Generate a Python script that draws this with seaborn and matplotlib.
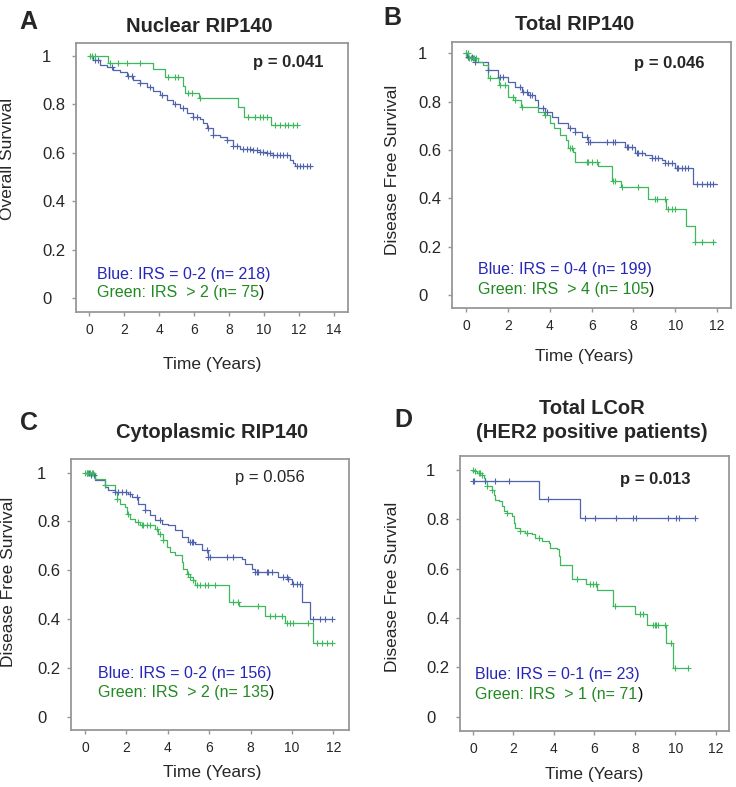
import numpy as np
import pandas as pd
import matplotlib
matplotlib.use('Agg')
import matplotlib.pyplot as plt
import seaborn as sns

# ---- values (time in years, survival fraction) ----
# A: Nuclear RIP140, overall survival
a_blue_t = [0, 0.25, 0.63, 1.01, 1.39, 1.77, 2.15, 2.53, 2.91, 3.30, 3.68, 4.06, 4.44, 4.82, 5.20, 5.58,
            5.96, 6.34, 6.53, 6.72, 7.10, 7.49, 7.87, 8.25, 8.63, 9.39, 9.77, 10.15, 10.53, 11.49, 11.68,
            11.77, 12.72]
a_blue_s = [1.0, 0.984, 0.963, 0.956, 0.942, 0.935, 0.918, 0.901, 0.887, 0.871, 0.857, 0.839, 0.819, 0.801,
            0.784, 0.764, 0.750, 0.740, 0.722, 0.702, 0.674, 0.667, 0.654, 0.630, 0.616, 0.612, 0.605,
            0.599, 0.592, 0.571, 0.557, 0.544, 0.544]
a_blue_c = [0.34, 0.53, 1.3, 2.25, 2.44, 2.91, 3.49, 4.15, 4.91, 5.39, 5.96, 6.15, 6.82, 7.1, 7.87, 8.25,
            8.44, 8.82, 9.01, 9.2, 9.39, 9.58, 9.77, 9.96, 10.15, 10.34, 10.53, 10.72, 10.91, 11.1, 11.3,
            11.87, 12.06, 12.25, 12.44, 12.63]
a_green_t = [0, 1.10, 3.68, 4.34, 5.35, 5.49, 6.30, 8.53, 8.88, 10.40, 11.87]
a_green_s = [1.0, 0.972, 0.945, 0.912, 0.876, 0.846, 0.826, 0.788, 0.750, 0.715, 0.715]
a_green_c = [0.05, 0.15, 0.34, 1.2, 1.68, 2.15, 2.91, 4.53, 4.91, 5.1, 5.68, 5.87, 6.34, 9.1, 9.49, 9.77,
             9.96, 10.15, 10.63, 10.91, 11.2, 11.39, 11.68, 11.87]

# B: Total RIP140, disease free survival
b_blue_t = [0, 0.05, 0.41, 1.05, 1.53, 2.01, 2.33, 2.65, 2.97, 3.29, 3.45, 3.77, 4.08, 4.40, 4.88, 5.20,
            5.52, 5.84, 7.60, 8.07, 8.55, 8.87, 9.35, 9.51, 9.99, 10.87, 11.98]
b_blue_s = [1.0, 0.986, 0.966, 0.931, 0.903, 0.883, 0.862, 0.841, 0.828, 0.807, 0.772, 0.759, 0.738, 0.710,
            0.690, 0.676, 0.655, 0.634, 0.614, 0.586, 0.579, 0.566, 0.559, 0.545, 0.524, 0.458, 0.458]
b_blue_c = [0.0, 0.1, 0.26, 0.41, 1.05, 1.61, 1.77, 2.57, 2.73, 2.89, 3.05, 3.13, 3.69, 3.85, 4.96, 5.2,
            5.76, 5.84, 5.92, 6.72, 7.04, 7.12, 7.67, 7.75, 7.91, 8.15, 8.23, 8.39, 8.87, 9.03, 9.19, 9.51,
            9.67, 9.83, 10.07, 10.15, 10.31, 10.47, 10.63, 11.03, 11.27, 11.5, 11.66, 11.82]
b_green_t = [0, 0.1, 0.56, 0.8, 1.02, 1.55, 2.0, 2.31, 2.6, 3.45, 3.72, 4.0, 4.2, 4.5, 4.75, 4.88, 5.1,
             5.22, 6.3, 6.98, 7.4, 8.68, 9.57, 10.53, 10.94, 11.9]
b_green_s = [1.0, 0.979, 0.966, 0.952, 0.897, 0.869, 0.818, 0.805, 0.779, 0.759, 0.745, 0.710, 0.690,
             0.662, 0.641, 0.607, 0.590, 0.552, 0.535, 0.470, 0.445, 0.398, 0.357, 0.286, 0.218, 0.218]
b_green_c = [0.0, 0.08, 0.15, 0.22, 0.3, 0.38, 0.45, 1.13, 1.61, 1.85, 2.25, 2.33, 2.65, 3.77, 4.96, 5.04,
             5.76, 5.84, 6.0, 6.24, 7.04, 7.12, 7.44, 8.23, 9.03, 9.11, 9.51, 9.67, 9.83, 9.99, 10.95,
             11.27, 11.82]

# C: Cytoplasmic RIP140, disease free survival
c_blue_t = [0, 0.3, 0.48, 0.97, 1.13, 1.45, 2.09, 2.26, 2.58, 2.90, 3.14, 3.38, 3.70, 4.03, 4.35, 4.67,
            4.99, 5.32, 5.64, 5.96, 7.57, 7.73, 8.05, 8.21, 9.34, 9.83, 9.99, 10.47, 10.87, 11.95]
c_blue_s = [1.0, 0.989, 0.969, 0.941, 0.928, 0.921, 0.914, 0.900, 0.873, 0.846, 0.825, 0.805, 0.791,
            0.784, 0.764, 0.737, 0.716, 0.709, 0.682, 0.655, 0.648, 0.627, 0.607, 0.593, 0.573, 0.566,
            0.545, 0.470, 0.400, 0.400]
c_blue_c = [0.1, 0.2, 0.3, 0.45, 1.45, 1.61, 1.77, 2.0, 2.17, 2.5, 2.9, 3.62, 5.07, 5.15, 5.24, 5.88, 5.96,
            6.04, 6.85, 7.17, 8.21, 8.29, 8.38, 8.78, 8.86, 9.02, 9.58, 9.75, 9.83, 10.07, 10.23, 10.39,
            11.03, 11.36, 11.6, 11.92]
c_green_t = [0, 0.48, 0.97, 1.45, 1.53, 1.69, 1.93, 2.01, 2.17, 2.42, 2.66, 3.38, 3.54, 3.79, 3.95, 4.11,
             4.35, 4.67, 4.75, 4.91, 5.07, 5.24, 5.32, 6.97, 7.46, 8.70, 9.66, 11.03, 11.95]
c_green_s = [1.0, 0.975, 0.948, 0.921, 0.894, 0.873, 0.859, 0.832, 0.812, 0.798, 0.784, 0.771, 0.750,
             0.723, 0.696, 0.675, 0.661, 0.634, 0.607, 0.586, 0.573, 0.559, 0.540, 0.471, 0.453, 0.412,
             0.382, 0.304, 0.304]
c_green_c = [0.0, 0.08, 0.16, 0.24, 0.32, 0.4, 0.97, 1.53, 2.09, 2.58, 2.74, 2.82, 2.98, 3.14, 3.46, 3.62,
             3.79, 4.99, 5.07, 5.24, 5.4, 5.56, 5.8, 5.96, 6.28, 7.17, 7.41, 8.38, 8.94, 9.18, 9.5, 9.75,
             9.9, 10.07, 10.8, 11.2, 11.44, 11.68, 11.92]

# D: Total LCoR (HER2 positive), disease free survival
d_blue_t = [0, 3.25, 5.31, 10.96]
d_blue_s = [0.957, 0.883, 0.805, 0.805]
d_blue_c = [0.0, 0.05, 0.6, 1.1, 1.8, 3.71, 5.55, 6.02, 7.09, 7.91, 8.08, 9.64, 10.05, 10.17, 10.96]
d_green_t = [0, 0.03, 0.20, 0.45, 0.53, 0.61, 0.69, 0.94, 1.02, 1.10, 1.27, 1.43, 1.52, 1.68, 1.93, 2.01,
             2.09, 2.34, 2.59, 2.92, 3.08, 3.41, 3.74, 3.82, 4.15, 4.24, 4.32, 4.90, 5.60, 6.15, 6.92,
             8.0, 8.62, 9.53, 9.89, 10.63]
d_green_s = [1.0, 0.995, 0.988, 0.981, 0.968, 0.954, 0.934, 0.921, 0.900, 0.880, 0.873, 0.853, 0.833,
             0.826, 0.813, 0.786, 0.766, 0.752, 0.745, 0.739, 0.725, 0.712, 0.705, 0.685, 0.678, 0.651,
             0.617, 0.560, 0.540, 0.512, 0.450, 0.416, 0.371, 0.300, 0.197, 0.197]
d_green_c = [0.0, 0.12, 0.28, 0.36, 0.45, 0.69, 0.94, 1.68, 2.34, 2.67, 3.25, 5.14, 5.77, 5.93, 6.1, 7.0,
             8.24, 8.41, 8.9, 8.98, 9.06, 9.15, 9.48, 9.77, 9.97, 10.63]

BLUE = '#5064ad'
GREEN = '#3db85c'
BLUE_TXT = '#2626b8'
GREEN_TXT = '#228a22'
FRAME = '#979797'

sns.set_style('white')
plt.rcParams['font.family'] = ['Liberation Sans', 'DejaVu Sans']

W, H = 736, 787
fig = plt.figure(figsize=(W / 100, H / 100), dpi=100)


def px_axes(left, right, top, bottom):
    return fig.add_axes([left / W, 1 - bottom / H, (right - left) / W, (bottom - top) / H])


def km_frames(t, s, cens):
    curve = pd.DataFrame({'time': t, 'surv': s})
    idx = np.searchsorted(np.asarray(t), np.asarray(cens), side='right') - 1
    marks = pd.DataFrame({'time': cens, 'surv': np.asarray(s)[idx]})
    return curve, marks


def draw_panel(ax, groups, xlim, ylim, xmax, ptext, pbold, pxy, blue_lbl, green_lbl, legxy):
    for t, s, c, color in groups:
        curve, marks = km_frames(t, s, c)
        sns.lineplot(data=curve, x='time', y='surv', ax=ax, color=color, lw=0.9,
                     drawstyle='steps-post', estimator=None, sort=False)
        sns.scatterplot(data=marks, x='time', y='surv', ax=ax, color=color, marker='+',
                        s=22, linewidth=0.8, zorder=3)
    ax.set_xlim(*xlim)
    ax.set_ylim(*ylim)
    ax.set_xticks(np.arange(0, xmax + 1, 2))
    ax.set_yticks([0, 0.2, 0.4, 0.6, 0.8, 1.0])
    ax.set_yticklabels(['0', '0.2', '0.4', '0.6', '0.8', '1'])
    ax.set_xlabel('')
    ax.set_ylabel('')
    for sp in ax.spines.values():
        sp.set_color(FRAME)
        sp.set_linewidth(1.3)
    ax.tick_params(axis='x', direction='out', length=3, width=1, color=FRAME, pad=5,
                   labelsize=10, bottom=True)
    ax.tick_params(axis='y', direction='out', length=3, width=1, color=FRAME, pad=21.5,
                   labelsize=12, left=True)
    plt.setp(ax.get_yticklabels(), ha='left')

    ax.text(pxy[0], pxy[1], ptext, transform=ax.transAxes, ha='left', va='center',
            fontsize=12, fontweight='bold' if pbold else 'normal')
    ax.text(legxy[0], legxy[1], blue_lbl, transform=ax.transAxes, ha='left', va='center',
            fontsize=11.5, color=BLUE_TXT)
    g = ax.text(legxy[0], legxy[2], green_lbl, transform=ax.transAxes, ha='left', va='center',
                fontsize=11.5, color=GREEN_TXT)
    ax.annotate(')', xy=(1, 0.5), xycoords=g, ha='left', va='center', fontsize=11.5, color='black')


axA = px_axes(76, 348, 43, 312)
draw_panel(axA, [(a_blue_t, a_blue_s, a_blue_c, BLUE), (a_green_t, a_green_s, a_green_c, GREEN)],
           (-0.743, 14.8), (-0.058, 1.054), 14, 'p = 0.041', True, (0.65, 0.926),
           'Blue: IRS = 0-2 (n= 218)', 'Green: IRS  > 2 (n= 75', (0.077, 0.141, 0.071))

axB = px_axes(452, 731, 42, 308)
draw_panel(axB, [(b_blue_t, b_blue_s, b_blue_c, BLUE), (b_green_t, b_green_s, b_green_c, GREEN)],
           (-0.685, 12.67), (-0.054, 1.047), 12, 'p = 0.046', True, (0.651, 0.921),
           'Blue: IRS = 0-4 (n= 199)', 'Green: IRS  > 4 (n= 105', (0.093, 0.143, 0.071))

axC = px_axes(71, 349, 459, 730)
draw_panel(axC, [(c_blue_t, c_blue_s, c_blue_c, BLUE), (c_green_t, c_green_s, c_green_c, GREEN)],
           (-0.677, 12.76), (-0.0545, 1.056), 12, 'p = 0.056', False, (0.59, 0.93),
           'Blue: IRS = 0-2 (n= 156)', 'Green: IRS  > 2 (n= 135', (0.096, 0.21, 0.137))

axD = px_axes(460, 729, 456, 731)
draw_panel(axD, [(d_blue_t, d_blue_s, d_blue_c, BLUE), (d_green_t, d_green_s, d_green_c, GREEN)],
           (-0.643, 12.66), (-0.058, 1.057), 12, 'p = 0.013', True, (0.594, 0.913),
           'Blue: IRS = 0-1 (n= 23)', 'Green: IRS  > 1 (n= 71', (0.057, 0.204, 0.133))


def ftext(x, y, s, **kw):
    fig.text(x / W, 1 - y / H, s, ha='center', va='center', **kw)


# panel letters and titles
ftext(28, 22, 'A', fontsize=18, fontweight='bold')
ftext(392, 18, 'B', fontsize=18, fontweight='bold')
ftext(29, 423, 'C', fontsize=18, fontweight='bold')
ftext(403, 420, 'D', fontsize=18, fontweight='bold')
ftext(199, 26, 'Nuclear RIP140', fontsize=14.5, fontweight='bold')
ftext(575, 25, 'Total RIP140', fontsize=14.5, fontweight='bold')
ftext(212, 432, 'Cytoplasmic RIP140', fontsize=14.5, fontweight='bold')
ftext(592, 408, 'Total LCoR', fontsize=14.5, fontweight='bold')
ftext(592, 433, '(HER2 positive patients)', fontsize=14.5, fontweight='bold')

# axis labels
ftext(212, 364, 'Time (Years)', fontsize=12.5)
ftext(584, 357, 'Time (Years)', fontsize=12.5)
ftext(212, 773, 'Time (Years)', fontsize=12.5)
ftext(594, 774, 'Time (Years)', fontsize=12.5)
ftext(8, 159, 'Overall Survival', fontsize=12.5, rotation=90)
ftext(393, 170, 'Disease Free Survival', fontsize=12.5, rotation=90)
ftext(9, 582, 'Disease Free Survival', fontsize=12.5, rotation=90)
ftext(393, 587, 'Disease Free Survival', fontsize=12.5, rotation=90)

fig.savefig('out.png', dpi=100, facecolor='white')
